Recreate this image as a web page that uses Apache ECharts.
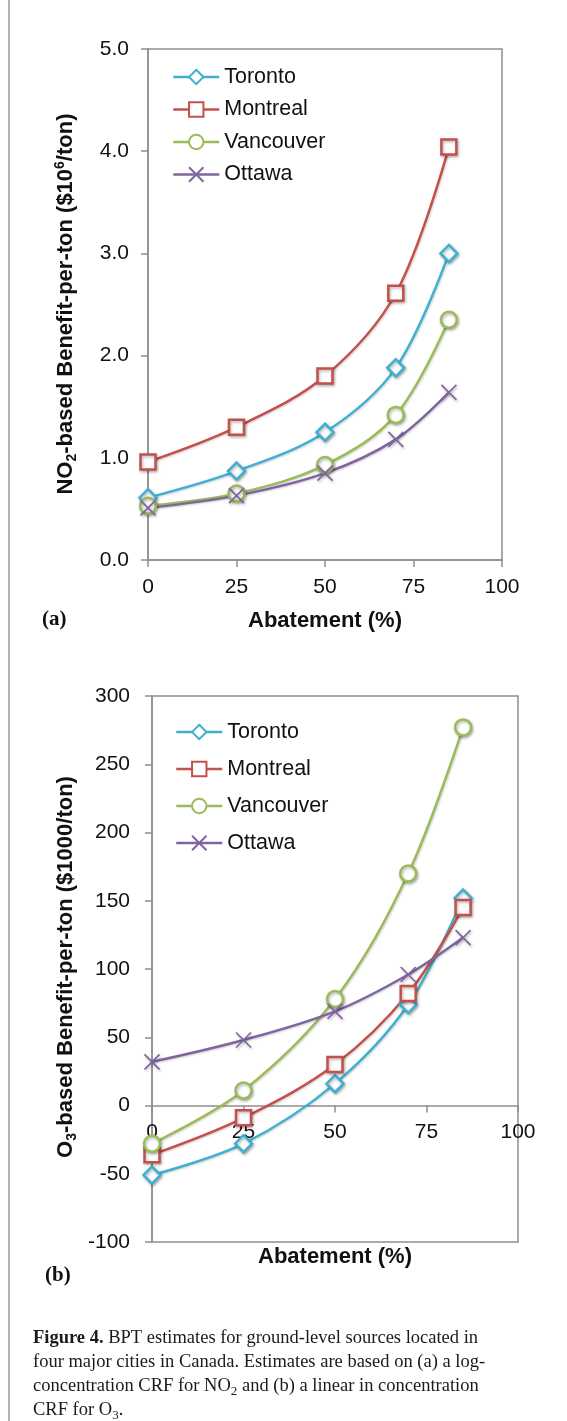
<!DOCTYPE html>
<html>
<head>
<meta charset="utf-8">
<script src="https://cdn.jsdelivr.net/npm/echarts@6/dist/echarts.min.js"></script>
<style>
  html, body { margin: 0; padding: 0; background: #fff; }
  #chart { width: 567px; height: 1421px; }
</style>
</head>
<body>
<div id="chart"></div>
<script>
// Abatement levels (%) at which each city was evaluated
const abatement = [0, 25, 50, 70, 85];
const cities = ['Toronto', 'Montreal', 'Vancouver', 'Ottawa'];

// (a) NO2-based benefit-per-ton, $10^6/ton
const no2Toronto   = [0.61, 0.87, 1.25, 1.88, 3.00];
const no2Montreal  = [0.96, 1.30, 1.80, 2.61, 4.04];
const no2Vancouver = [0.53, 0.65, 0.93, 1.42, 2.35];
const no2Ottawa    = [0.51, 0.63, 0.85, 1.18, 1.64];

// (b) O3-based benefit-per-ton, $1000/ton
const o3Toronto   = [-51, -28, 16, 74, 152];
const o3Montreal  = [-36, -9, 30, 82, 145];
const o3Vancouver = [-28, 11, 78, 170, 277];
const o3Ottawa    = [32, 48, 69, 96, 123];

// Axis tick settings
const no2Ticks = { min: 0, max: 5, interval: 1 };
const o3Ticks = { min: -100, max: 300, interval: 50 };
const abatementTicks = { min: 0, max: 100, interval: 25 };

const SANS = "'Liberation Sans', Arial, Helvetica, sans-serif";
const SERIF = "'Liberation Serif', 'Times New Roman', serif";
const AXIS_GRAY = '#8f8f8f';

const cityStyle = {
  Toronto:   { color: '#3FAFD2', symbol: 'diamond', size: 17 },
  Montreal:  { color: '#C4504C', symbol: 'rect', size: 15 },
  Vancouver: { color: '#9BBB59', symbol: 'circle', size: 16 },
  Ottawa:    { color: '#8064A2', symbol: 'path://M0,0L10,10M10,0L0,10', size: 15 }
};

const no2Data = [no2Toronto, no2Montreal, no2Vancouver, no2Ottawa];
const o3Data = [o3Toronto, o3Montreal, o3Vancouver, o3Ottawa];

function makeSeries(gridIdx, values) {
  return cities.map((name, k) => {
    const st = cityStyle[name];
    const isCross = name === 'Ottawa';
    return {
      type: 'line',
      name: name,
      xAxisIndex: gridIdx,
      yAxisIndex: gridIdx,
      data: abatement.map((x, i) => [x, values[k][i]]),
      smooth: 0.35,
      symbol: st.symbol,
      symbolSize: st.size,
      symbolKeepAspect: true,
      lineStyle: {
        color: st.color, width: 2.5,
        shadowColor: 'rgba(0,0,0,0.18)', shadowBlur: 2, shadowOffsetX: 1, shadowOffsetY: 1
      },
      itemStyle: {
        color: isCross ? st.color : '#ffffff',
        borderColor: st.color,
        borderWidth: isCross ? 1.6 : 2.5,
        shadowColor: 'rgba(0,0,0,0.3)', shadowBlur: 3, shadowOffsetX: 1, shadowOffsetY: 1.5
      },
      emphasis: { disabled: true },
      z: 3
    };
  });
}

function valueAxis(gridIdx, ticks, extra) {
  return Object.assign({
    type: 'value',
    gridIndex: gridIdx,
    min: ticks.min, max: ticks.max, interval: ticks.interval,
    axisLine: { show: true, onZero: false, lineStyle: { color: AXIS_GRAY, width: 1.5 } },
    axisTick: { show: true, inside: false, length: 7, lineStyle: { color: AXIS_GRAY, width: 1.5 } },
    splitLine: { show: false },
    axisLabel: { color: '#111', fontSize: 21, fontFamily: SANS }
  }, extra);
}

function legendFor(left, top, gap) {
  return {
    data: cities,
    orient: 'vertical',
    left: left, top: top,
    itemWidth: 46, itemHeight: 18, itemGap: gap,
    selectedMode: false,
    lineStyle: { width: 2.5 },
    textStyle: { color: '#111', fontSize: 21.5, fontFamily: SANS, lineHeight: 22 }
  };
}

// the O3 panel's x axis sits at the zero line: shift it up from the grid bottom
const o3Grid = { left: 152, top: 696, width: 366, height: 546 };
const o3ZeroOffset = -o3Grid.height * (0 - o3Ticks.min) / (o3Ticks.max - o3Ticks.min);

const option = {
  animation: false,
  backgroundColor: '#ffffff',
  grid: [
    { left: 148, top: 49, width: 354, height: 511, show: true, borderColor: AXIS_GRAY, borderWidth: 1.5, backgroundColor: 'transparent' },
    Object.assign({ show: true, borderColor: AXIS_GRAY, borderWidth: 1.5, backgroundColor: 'transparent' }, o3Grid)
  ],
  xAxis: [
    valueAxis(0, abatementTicks, {
      axisLabel: { color: '#111', fontSize: 21, fontFamily: SANS, margin: 17 }
    }),
    valueAxis(1, abatementTicks, {
      position: 'bottom',
      offset: o3ZeroOffset,
      axisLabel: { color: '#111', fontSize: 21, fontFamily: SANS, margin: 16 }
    })
  ],
  yAxis: [
    valueAxis(0, no2Ticks, {
      axisLabel: { color: '#111', fontSize: 21, fontFamily: SANS, margin: 19, formatter: v => v.toFixed(1) }
    }),
    valueAxis(1, o3Ticks, {
      axisLabel: { color: '#111', fontSize: 21, fontFamily: SANS, margin: 22 }
    })
  ],
  legend: [legendFor(167, 61, 10.5), legendFor(170, 716, 15)],
  series: makeSeries(0, no2Data).concat(makeSeries(1, o3Data)),
  graphic: [
    // page frame on the left
    { type: 'line', shape: { x1: 9, y1: 0, x2: 9, y2: 1421 }, style: { stroke: '#9a9a9a', lineWidth: 1.5 }, silent: true },
    // y-axis titles
    {
      type: 'text', x: 66, y: 304, rotation: Math.PI / 2,
      style: {
        text: '{b|NO}{sub|2}{b|-based Benefit-per-ton ($10}{sup|6}{b|/ton)}',
        align: 'center', verticalAlign: 'middle',
        rich: {
          b: { fontSize: 22, fontWeight: 'bold', fontFamily: SANS, fill: '#111', lineHeight: 26 },
          sub: { fontSize: 14, fontWeight: 'bold', fontFamily: SANS, fill: '#111', lineHeight: 16, verticalAlign: 'bottom' },
          sup: { fontSize: 14, fontWeight: 'bold', fontFamily: SANS, fill: '#111', lineHeight: 16, verticalAlign: 'top' }
        }
      }
    },
    {
      type: 'text', x: 66, y: 967, rotation: Math.PI / 2,
      style: {
        text: '{b|O}{sub|3}{b|-based Benefit-per-ton ($1000/ton)}',
        align: 'center', verticalAlign: 'middle',
        rich: {
          b: { fontSize: 22, fontWeight: 'bold', fontFamily: SANS, fill: '#111', lineHeight: 26 },
          sub: { fontSize: 14, fontWeight: 'bold', fontFamily: SANS, fill: '#111', lineHeight: 16, verticalAlign: 'bottom' }
        }
      }
    },
    // x-axis titles
    {
      type: 'text', x: 325, y: 621,
      style: { text: 'Abatement (%)', fontSize: 22, fontWeight: 'bold', fontFamily: SANS, fill: '#111', align: 'center', verticalAlign: 'middle' }
    },
    {
      type: 'text', x: 335, y: 1257,
      style: { text: 'Abatement (%)', fontSize: 22, fontWeight: 'bold', fontFamily: SANS, fill: '#111', align: 'center', verticalAlign: 'middle' }
    },
    // panel letters
    {
      type: 'text', x: 42, y: 620,
      style: { text: '(a)', fontSize: 21, fontWeight: 'bold', fontFamily: SERIF, fill: '#111', align: 'left', verticalAlign: 'middle' }
    },
    {
      type: 'text', x: 45, y: 1276,
      style: { text: '(b)', fontSize: 21, fontWeight: 'bold', fontFamily: SERIF, fill: '#111', align: 'left', verticalAlign: 'middle' }
    },
    // figure caption
    {
      type: 'text', x: 33, y: 1326,
      style: {
        text: [
          '{bf|Figure 4.}{r| BPT estimates for ground-level sources located in}',
          '{r|four major cities in Canada. Estimates are based on (a) a log-}',
          '{r|concentration CRF for NO}{s|2}{r| and (b) a linear in concentration}',
          '{r|CRF for O}{s|3}{r|.}'
        ].join('\n'),
        align: 'left', verticalAlign: 'top',
        rich: {
          r: { fontSize: 18.5, fontFamily: SERIF, fill: '#1a1a1a', lineHeight: 24 },
          bf: { fontSize: 18.5, fontFamily: SERIF, fontWeight: 'bold', fill: '#1a1a1a', lineHeight: 24 },
          s: { fontSize: 13, fontFamily: SERIF, fill: '#1a1a1a', lineHeight: 17, verticalAlign: 'bottom' }
        }
      }
    }
  ]
};

const chart = echarts.init(document.getElementById('chart'), null, { renderer: 'canvas' });
chart.setOption(option);
</script>
</body>
</html>
